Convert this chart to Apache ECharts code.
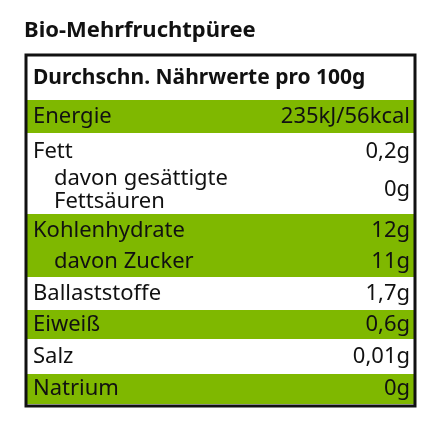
<!DOCTYPE html>
<html>
<head>
<meta charset="utf-8">
<script src="https://cdn.jsdelivr.net/npm/echarts@6/dist/echarts.min.js"></script>
<style>html,body{margin:0;padding:0;background:#fff}#chart{width:440px;height:440px}</style>
</head>
<body>
<div id="chart"></div>
<script>
var title = 'Bio-Mehrfruchtpüree';
var header = 'Durchschn. Nährwerte pro 100g';
var labels = ['Energie', 'Fett', 'davon gesättigte\nFettsäuren', 'Kohlenhydrate', 'davon Zucker', 'Ballaststoffe', 'Eiweiß', 'Salz', 'Natrium'];
var values = ['235kJ/56kcal', '0,2g', '0g', '12g', '11g', '1,7g', '0,6g', '0,01g', '0g'];
var indented = [false, false, true, false, true, false, false, false, false];
var shaded = [true, false, false, true, true, false, true, false, true];

// layout: top and bottom of each row band
var rowTop = [100, 137, 166, 214, 247, 279, 310, 341, 374];
var rowBottom = [133, 166, 214, 247, 277, 308, 339, 372, 404];

var green = '#7fb800';
var font = '"Noto Sans", "Open Sans", sans-serif';
var elements = [];

elements.push({ type: 'text', left: 24, top: 20, style: { text: title, font: 'bold 22px ' + font, fill: '#111' } });

labels.forEach(function (l, i) {
    if (shaded[i]) {
        elements.push({ type: 'rect', shape: { x: 27, y: rowTop[i], width: 387, height: rowBottom[i] - rowTop[i] }, style: { fill: green } });
    }
    var mid = (rowTop[i] + rowBottom[i]) / 2;
    elements.push({ type: 'text', x: indented[i] ? 54 : 33, y: mid, style: { text: l, font: '22px ' + font, fill: '#111', verticalAlign: 'middle', lineHeight: 23 } });
    elements.push({ type: 'text', x: 410, y: mid, style: { text: values[i], font: '22px ' + font, fill: '#111', align: 'right', verticalAlign: 'middle' } });
});

elements.push({ type: 'text', x: 33, y: 78, style: { text: header, font: 'bold 21px ' + font, fill: '#111', verticalAlign: 'middle' } });
elements.push({ type: 'rect', shape: { x: 26, y: 55, width: 389, height: 351 }, style: { fill: 'none', stroke: '#111', lineWidth: 3 } });

var myChart = echarts.init(document.getElementById('chart'));
myChart.setOption({ animation: false, graphic: { elements: elements } });
</script>
</body>
</html>
